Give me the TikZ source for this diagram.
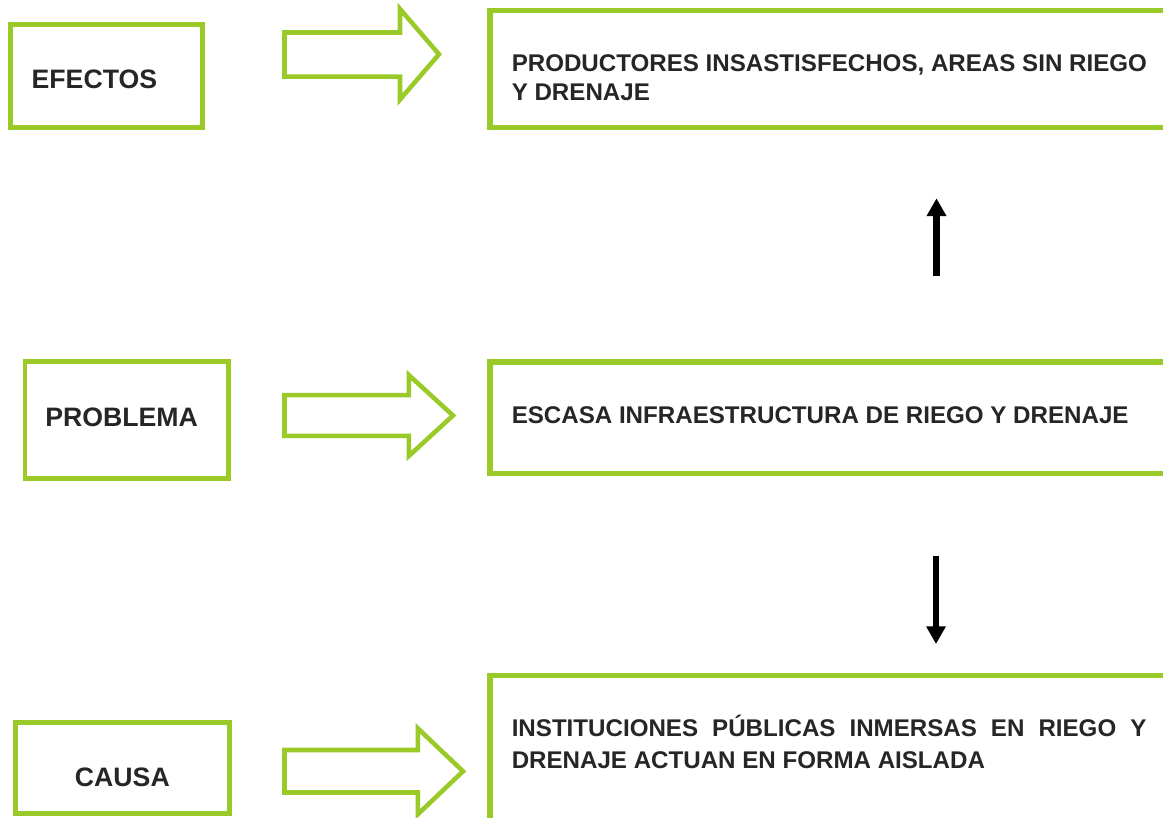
\documentclass[tikz,border=0pt]{standalone}
\usepackage{fontspec}
\setmainfont{Liberation Sans}
\usetikzlibrary{arrows.meta,fit}
\definecolor{lgreen}{RGB}{154,202,40}
\definecolor{txt}{RGB}{38,38,38}
\begin{document}
\begin{tikzpicture}[x=0.75pt,y=-0.75pt,
  smallbox/.style={draw=lgreen,line width=3.5pt,inner sep=0pt},
  bigbox/.style={draw=lgreen,line width=4pt,inner sep=0pt},
  garrow/.style={draw=lgreen,line width=3.4pt,line join=miter,fill=white},
  lbl/.style={anchor=base west,inner sep=0pt,text=txt,font=\fontsize{20}{24}\selectfont\bfseries},
  boxtext/.style={anchor=base west,inner sep=0pt,text=txt,font=\fontsize{18.1}{21}\selectfont\bfseries},
  barrow/.style={line width=5pt,-{Triangle[length=13.3pt,width=14pt]}}]
\useasboundingbox[fill=white] (0,0) rectangle (1163,817);

% left label boxes
\node[smallbox,fit={(10.8,24.2) (202.5,127.5)}] (ef) {};
\node[smallbox,fit={(25,361.8) (228.5,478.3)}] (pr) {};
\node[smallbox,fit={(15.2,722.5) (229.2,813.2)}] (ca) {};
\node[lbl] (eft) at (31.4,88.3) {EFECTOS};
\node[lbl] (prt) at (45,426) {PROBLEMA};
\node[lbl] (cat) at (74.7,786.7) {CAUSA};

% big boxes
\node[bigbox,fit={(490,10.8) (1185,127.5)}] (b1) {};
\node[bigbox,fit={(490,362) (1185,473.3)}] (b2) {};
\node[bigbox,fit={(490,675.2) (1185,860)}] (b3) {};
\node[boxtext] (b1a) at (511.5,71.7) {PRODUCTORES INSASTISFECHOS, AREAS SIN RIEGO};
\node[boxtext] (b1b) at (511.5,100) {Y DRENAJE};
\node[boxtext] (b2a) at (511.5,423.3) {ESCASA INFRAESTRUCTURA DE RIEGO Y DRENAJE};
\node[boxtext] (b3a) at (511.5,736) {\makebox[476pt][s]{INSTITUCIONES PÚBLICAS INMERSAS EN RIEGO Y}};
\node[boxtext] (b3b) at (511.5,768.3) {DRENAJE ACTUAN EN FORMA AISLADA};

% green outline arrows
\draw[garrow] (284.5,32.5) -- (400,32.5) -- (400,9) -- (439,54.3) -- (400,99.5) -- (400,76.7) -- (284.5,76.7) -- cycle;
\draw[garrow] (284.5,395.2) -- (408.8,395.2) -- (408.8,375) -- (453,415.5) -- (408.8,456) -- (408.8,435.8) -- (284.5,435.8) -- cycle;
\draw[garrow] (284.5,750) -- (417.8,750) -- (417.8,728.3) -- (463,771.3) -- (417.8,814.3) -- (417.8,792.5) -- (284.5,792.5) -- cycle;

% black arrows
\coordinate (upS) at (936.5,276);
\coordinate (upE) at (936.5,198.3);
\coordinate (dnS) at (936,555.7);
\coordinate (dnE) at (936,644);
\draw[barrow] (upS) -- (upE);
\draw[barrow] (dnS) -- (dnE);
\end{tikzpicture}
\end{document}
